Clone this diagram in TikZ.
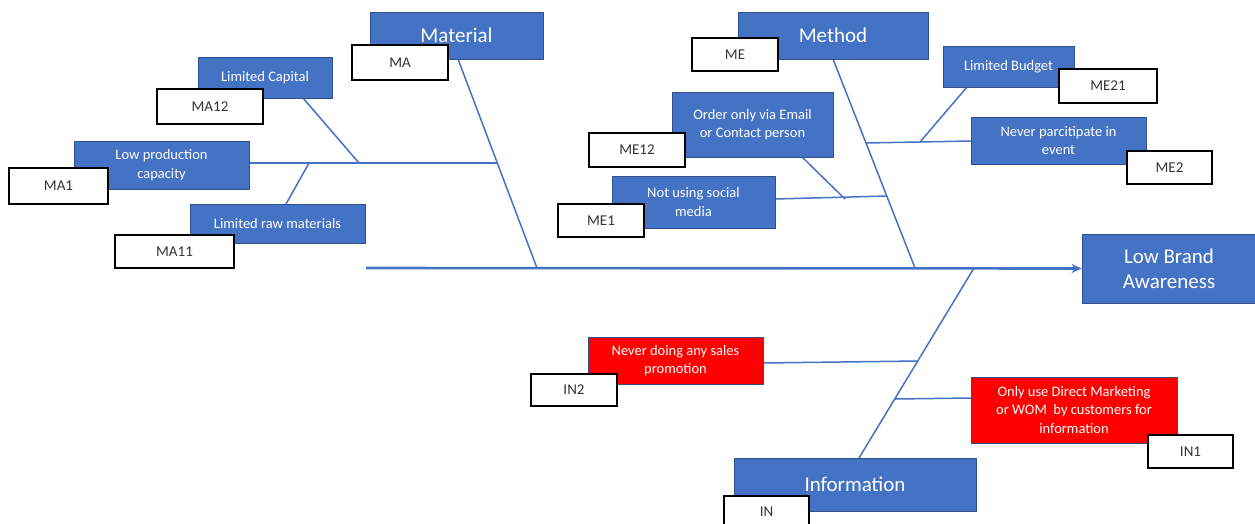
\documentclass[tikz,border=0pt]{standalone}
\usepackage{fontspec}
\setmainfont{Carlito}
\usetikzlibrary{arrows.meta}
\definecolor{obl}{HTML}{4472C4}
\definecolor{odk}{HTML}{2F528F}
\definecolor{ored}{HTML}{FF0000}
\begin{document}
\begin{tikzpicture}[x=1pt,y=-1pt,
 cat/.style={fill=obl, draw=odk, line width=0.8pt, text=white, inner sep=0pt, align=center, font=\fontsize{21}{25}\selectfont},
 sub/.style={fill=obl, draw=odk, line width=0.8pt, text=white, inner sep=0pt, align=center, font=\fontsize{14.5}{18.5}\selectfont},
 redsub/.style={sub, fill=ored},
 tag/.style={fill=white, draw=black, line width=1.4pt, inner sep=0pt, text=black!80, font=\fontsize{15}{18}\selectfont},
 bone/.style={draw=obl, line width=1.5pt},
 spine/.style={draw=obl, line width=2.6pt, -{Stealth[length=10pt,width=9pt]}}]
\useasboundingbox (0,0) rectangle (1255,523);

% ---- joints (free ends of connectors)
\coordinate (s0) at (366,268);
\coordinate (mtop) at (458,59);   \coordinate (mbot) at (537,268);
\coordinate (mj) at (497,163);
\coordinate (lcj) at (359,163);   \coordinate (lca) at (303,98);
\coordinate (lrj) at (309,163);   \coordinate (lra) at (286,204);
\coordinate (etop) at (833,59);   \coordinate (ebot) at (915,268);
\coordinate (ejr) at (866,143);   \coordinate (npa) at (971,141);
\coordinate (lbj) at (920,142);   \coordinate (lba0) at (967,87);
\coordinate (ejl) at (887,196);   \coordinate (nua) at (775,199);
\coordinate (orj) at (845,199);   \coordinate (ora) at (802,157);
\coordinate (itop) at (974,268);  \coordinate (ibot) at (859,458);
\coordinate (ij1) at (918,361);   \coordinate (nda) at (763,363);
\coordinate (ij2) at (895,399);   \coordinate (oua) at (971,398);

% ---- connectors
\draw[bone] (mtop) -- (mbot);
\draw[bone] (249,163) -- (mj);
\draw[bone] (lca) -- (lcj);
\draw[bone] (lra) -- (lrj);
\draw[bone] (etop) -- (ebot);
\draw[bone] (ejr) -- (npa);
\draw[bone] (lba0) -- (lbj);
\draw[bone] (nua) -- (ejl);
\draw[bone] (ora) -- (orj);
\draw[bone] (itop) -- (ibot);
\draw[bone] (nda) -- (ij1);
\draw[bone] (ij2) -- (oua);

% ---- boxes
\node[cat, minimum width=173pt, minimum height=47pt] (mat) at (456.5,35.5) {Material};
\node[tag, minimum width=96pt, minimum height=35pt] (ma) at (400,62.5) {MA};
\node[sub, minimum width=134pt, minimum height=41pt] (lc) at (265,77.5) {Limited Capital};
\node[tag, minimum width=106pt, minimum height=35pt] (ma12) at (210,106.5) {MA12};
\node[sub, minimum width=175pt, minimum height=48pt] (lpc) at (161.5,165) {Low production\\capacity};
\node[tag, minimum width=99pt, minimum height=36pt] (ma1) at (58.5,186) {MA1};
\node[sub, minimum width=175pt, minimum height=39pt] (lrm) at (277.5,223.5) {Limited raw materials};
\node[tag, minimum width=119pt, minimum height=33pt] (ma11) at (174.5,251.5) {MA11};

\node[cat, minimum width=190pt, minimum height=47pt] (met) at (833,35.5) {Method};
\node[tag, minimum width=86pt, minimum height=33pt] (me) at (735,54.5) {ME};
\node[sub, minimum width=161pt, minimum height=65pt] (ord) at (752.5,124.5) {Order only via Email\\or Contact person};
\node[tag, minimum width=96pt, minimum height=34pt] (me12) at (637,150) {ME12};
\node[sub, minimum width=163pt, minimum height=52pt] (nus) at (693.5,202) {Not using social\\media};
\node[tag, minimum width=86pt, minimum height=33pt] (me1) at (601,220.5) {ME1};
\node[sub, minimum width=131pt, minimum height=41pt] (lb) at (1008.5,66.5) {Limited Budget};
\node[tag, minimum width=98pt, minimum height=34pt] (me21) at (1108,86) {ME21};
\node[sub, minimum width=175pt, minimum height=47pt] (npe) at (1058.5,140.5) {Never parcitipate in\\event};
\node[tag, minimum width=85pt, minimum height=33pt] (me2) at (1169.5,167.5) {ME2};

\node[cat, minimum width=174pt, minimum height=69pt] (lba) at (1169,268.5) {Low Brand\\Awareness};

\node[redsub, minimum width=175pt, minimum height=47pt] (ndp) at (675.5,360.5) {Never doing any sales\\promotion};
\node[tag, minimum width=86pt, minimum height=32pt] (in2) at (574,390) {IN2};
\node[redsub, minimum width=206pt, minimum height=66pt] (oud) at (1074,410) {Only use Direct Marketing\\or WOM\ \ by customers for\\information};
\node[tag, minimum width=85pt, minimum height=33pt] (in1) at (1190.5,451.5) {IN1};
\node[cat, minimum width=242pt, minimum height=53pt] (inf) at (855,484.5) {Information};
\node[tag, minimum width=85pt, minimum height=32pt] (inn) at (766.5,512) {IN};

% ---- spine
\draw[spine] (s0) -- (lba.west);
\end{tikzpicture}
\end{document}
